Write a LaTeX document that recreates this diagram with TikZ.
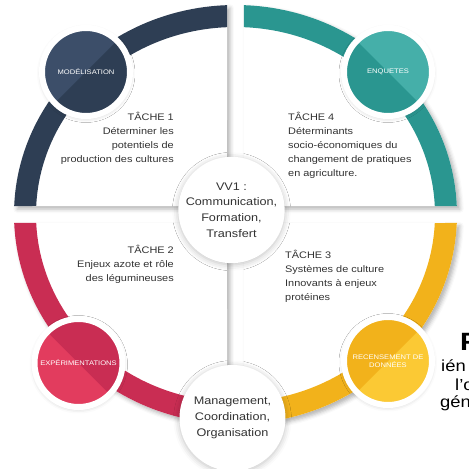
\documentclass[tikz,border=0pt]{standalone}
\usepackage{fontspec}
\setmainfont[FakeStretch=1.15]{Liberation Sans}
\usetikzlibrary{shadows.blur}

\definecolor{navy}{HTML}{2E3E54}
\definecolor{navylight}{HTML}{3C4E69}
\definecolor{teal}{HTML}{2A9690}
\definecolor{teallight}{HTML}{45AFA9}
\definecolor{crimson}{HTML}{C92D53}
\definecolor{crimsonlight}{HTML}{E23C5E}
\definecolor{amber}{HTML}{F2B21B}
\definecolor{amberlight}{HTML}{FBC934}
\definecolor{ink}{HTML}{333333}

\begin{document}
\begin{tikzpicture}[x=1pt,y=1pt,
    card/.style={fill=white, blur shadow={shadow xshift=3pt, shadow yshift=-3pt, shadow blur radius=4pt, shadow opacity=30}},
    badge/.style={circle, minimum size=88pt, inner sep=0pt, draw=white, line width=6pt, text=white, align=center,
        font=\fontsize{6.6}{8.5}\selectfont, blur shadow={shadow xshift=0pt, shadow yshift=-1.5pt, shadow blur radius=5pt, shadow opacity=25}},
    dark/.style n args={4}{path picture={\fill[#1] (path picture bounding box.#2) -- (path picture bounding box.#3) -- (path picture bounding box.#4) -- cycle;}},
    hub/.style={circle, fill=white, minimum size=106pt, inner sep=0pt, align=center, text=ink,
        font=\fontsize{11}{15.7}\selectfont, blur shadow={shadow xshift=0pt, shadow yshift=-1.5pt, shadow blur radius=6pt, shadow opacity=25}},
    task/.style={inner sep=0pt, text=ink, font=\fontsize{9.5}{14}\selectfont}]

    \useasboundingbox (-235.5,-254.5) rectangle (233.5,214.5);

    \fill[card] (-8.5,8.5) -- (92.20:221.5 and 209.5) arc[start angle=92.20, end angle=177.675, x radius=221.5, y radius=209.5] -- cycle;
    \fill[card] (8.5,8.5) -- (2.325:221.5 and 209.5) arc[start angle=2.325, end angle=87.80, x radius=221.5, y radius=209.5] -- cycle;
    \fill[card] (-8.5,-8.5) -- (182.325:221.5 and 209.5) arc[start angle=182.325, end angle=267.80, x radius=221.5, y radius=209.5] -- cycle;
    \fill[card] (8.5,-8.5) -- (272.20:221.5 and 209.5) arc[start angle=272.20, end angle=357.675, x radius=221.5, y radius=209.5] -- cycle;

    \fill[navy] (92.20:221.5 and 209.5) arc[start angle=92.20, end angle=177.675, x radius=221.5, y radius=209.5]
        -- (177.40:199.5 and 187.5) arc[start angle=177.40, end angle=92.44, x radius=199.5, y radius=187.5] -- cycle;
    \fill[teal] (2.325:221.5 and 209.5) arc[start angle=2.325, end angle=87.80, x radius=221.5, y radius=209.5]
        -- (87.56:199.5 and 187.5) arc[start angle=87.56, end angle=2.598, x radius=199.5, y radius=187.5] -- cycle;
    \fill[crimson] (182.325:221.5 and 209.5) arc[start angle=182.325, end angle=267.80, x radius=221.5, y radius=209.5]
        -- (267.56:199.5 and 187.5) arc[start angle=267.56, end angle=182.598, x radius=199.5, y radius=187.5] -- cycle;
    \fill[amber] (272.20:221.5 and 209.5) arc[start angle=272.20, end angle=357.675, x radius=221.5, y radius=209.5]
        -- (357.40:199.5 and 187.5) arc[start angle=357.40, end angle=272.44, x radius=199.5, y radius=187.5] -- cycle;

    \node[badge, fill=navylight, dark={navy}{north east}{south east}{south west}] at (-149.5,142.5) (modelisation) {MOD\'ELISATION};
    \node[badge, fill=teallight, dark={teal}{north west}{south west}{south east}] at (152.5,142.5) (enquetes) {ENQUETES};
    \node[badge, fill=crimsonlight, dark={crimson}{north west}{north east}{south east}] at (-157,-148.5) (experimentations) {EXP\'ERIMENTATIONS};
    \node[badge, fill=amberlight, dark={amber}{south west}{north west}{north east}] at (152.5,-146.5) (recensement) {RECENSEMENT DE\\DONN\'EES};

    \node[task, anchor=north east, align=right] at (-61.5,102.5) (tache1) {T\^ACHE 1\\D\'eterminer les\\potentiels de\\production des cultures};
    \node[task, anchor=north west, align=left] at (52.5,102.5) (tache4) {T\^ACHE 4\\D\'eterminants\\socio-\'economiques du\\changement de pratiques\\en agriculture.};
    \node[task, anchor=north east, align=right] at (-61.5,-30.5) (tache2) {T\^ACHE 2\\Enjeux azote et r\^ole\\des l\'egumineuses};
    \node[task, anchor=north west, align=left] at (49.5,-35.5) (tache3) {T\^ACHE 3\\Syst\`emes de culture\\Innovants \`a enjeux\\prot\'eines};

    \node[hub] at (-4,4.5) (vv1) {VV1 :\\Communication,\\Formation,\\Transfert};
    \node[hub] at (-3,-203.5) (management) {Management,\\Coordination,\\Organisation};

    \begin{scope}
        \clip (-235.5,-254.5) rectangle (233.5,214.5);
        \node[anchor=base west, inner sep=0pt, font=\fontsize{25}{30}\bfseries] at (224.5,-135.5) (titre) {F};
        \node[anchor=base west, inner sep=0pt, font=\fontsize{16}{18}\selectfont] at (205.5,-156.5) (ligne1) {ién};
        \node[anchor=base west, inner sep=0pt, font=\fontsize{16}{18}\selectfont] at (219.5,-175.5) (ligne2) {l’o};
        \node[anchor=base west, inner sep=0pt, font=\fontsize{16}{18}\selectfont] at (204.5,-192.5) (ligne3) {géné};
    \end{scope}
\end{tikzpicture}
\end{document}
